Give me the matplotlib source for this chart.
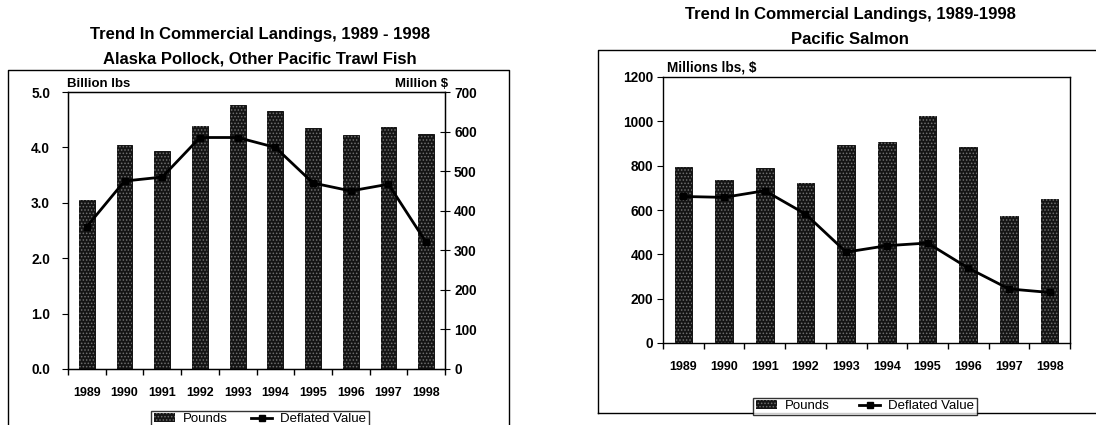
import numpy as np
import matplotlib
matplotlib.use("Agg")
import matplotlib.pyplot as plt
from matplotlib.patches import Patch
from matplotlib.lines import Line2D

plt.rcParams['font.family'] = ['Liberation Sans', 'DejaVu Sans']
plt.rcParams['hatch.linewidth'] = 0.7

years = ['1989', '1990', '1991', '1992', '1993', '1994', '1995', '1996', '1997', '1998']

# Alaska Pollock / other Pacific trawl fish
pollock_pounds = [3.05, 4.05, 3.93, 4.38, 4.77, 4.65, 4.35, 4.22, 4.37, 4.24]   # billion lbs
pollock_value = [360, 475, 485, 585, 585, 560, 470, 450, 467, 320]              # million $

# Pacific salmon
salmon_pounds = [792, 737, 789, 724, 891, 905, 1022, 882, 571, 650]             # million lbs
salmon_value = [661, 657, 687, 582, 410, 439, 451, 338, 244, 228]               # million $

BAR_FACE = '#141414'
BAR_DOTS = '#6e6e6e'

W, H = 1096, 425
fig = plt.figure(figsize=(W / 100, H / 100), dpi=100)


def fx(px):
    return px / W


def fy(py):
    return 1 - py / H


def draw_bars(ax, values, width):
    x = np.arange(len(values))
    ax.bar(x, values, width=width, color=BAR_FACE, edgecolor='black', linewidth=0.6, zorder=2)
    ax.bar(x, values, width=width, color='none', edgecolor=BAR_DOTS, hatch='.....',
           linewidth=0, zorder=3)


def style_x(ax, n):
    ax.set_xlim(-0.5, n - 0.5)
    ax.set_xticks(np.arange(n))
    ax.set_xticklabels(years, fontsize=9, fontweight='bold')
    ax.tick_params(axis='x', which='major', length=0, pad=13)
    ax.set_xticks(np.arange(-0.5, n, 1), minor=True)
    ax.tick_params(axis='x', which='minor', length=4, width=1, direction='out')


def frame(x0, x1, y0, y1):
    fig.add_artist(plt.Line2D([fx(x0), fx(x0), fx(x1), fx(x1), fx(x0)],
                              [fy(y1), fy(y0), fy(y0), fy(y1), fy(y1)],
                              color='black', linewidth=1.0, transform=fig.transFigure))


# ---------------- left chart ----------------
frame(8, 509, 70, 440)
fig.text(fx(260), fy(34), 'Trend In Commercial Landings, 1989 - 1998', ha='center', va='center',
         fontsize=12, fontweight='bold')
fig.text(fx(260), fy(59), 'Alaska Pollock, Other Pacific Trawl Fish', ha='center', va='center',
         fontsize=12, fontweight='bold')

axL = fig.add_axes([fx(68), fy(369), fx(445) - fx(68), fy(92) - fy(369)])
draw_bars(axL, pollock_pounds, 0.42)
axL.set_ylim(0, 5.0)
axL.set_yticks(np.arange(0, 5.01, 1.0))
axL.set_yticklabels([f'{v:.1f}' for v in np.arange(0, 5.01, 1.0)], fontsize=9.8, fontweight='bold')
axL.tick_params(axis='y', length=4, direction='out', pad=9)
style_x(axL, len(years))
for s in axL.spines.values():
    s.set_linewidth(1.0)

axL2 = axL.twinx()
axL2.plot(np.arange(len(years)), pollock_value, color='black', linewidth=2.0, marker='s',
          markersize=5, zorder=5)
axL2.set_ylim(0, 700)
axL2.set_yticks(np.arange(0, 701, 100))
axL2.set_yticklabels([str(v) for v in range(0, 701, 100)], fontsize=9.8, fontweight='bold')
axL2.tick_params(axis='y', length=7, direction='inout', pad=3)

fig.text(fx(67), fy(84), 'Billion lbs', ha='left', va='center', fontsize=9.5, fontweight='bold')
fig.text(fx(448), fy(84), 'Million $', ha='right', va='center', fontsize=9.5, fontweight='bold')

handles = [Patch(facecolor=BAR_FACE, edgecolor=BAR_DOTS, hatch='.....', linewidth=0),
           Line2D([0], [0], color='black', linewidth=2, marker='s', markersize=5)]
legL = fig.legend(handles, ['Pounds', 'Deflated Value'], loc='upper center',
                  bbox_to_anchor=(fx(260), fy(404)), ncol=2, frameon=True, fancybox=False,
                  edgecolor='black', fontsize=9.5, handlelength=1.6, handletextpad=0.6,
                  columnspacing=1.8, borderpad=0.2)
legL.get_frame().set_linewidth(1.0)

# ---------------- right chart ----------------
frame(598, 1110, 50, 413)
fig.text(fx(850), fy(15), 'Trend In Commercial Landings, 1989-1998', ha='center', va='center',
         fontsize=12, fontweight='bold')
fig.text(fx(850), fy(40), 'Pacific Salmon', ha='center', va='center',
         fontsize=12, fontweight='bold')

axR = fig.add_axes([fx(663), fy(343), fx(1070) - fx(663), fy(77) - fy(343)])
draw_bars(axR, salmon_pounds, 0.43)
axR.plot(np.arange(len(years)), salmon_value, color='black', linewidth=2.0, marker='s',
         markersize=5, zorder=5)
axR.set_ylim(0, 1200)
axR.set_yticks(np.arange(0, 1201, 200))
axR.set_yticklabels([str(v) for v in range(0, 1201, 200)], fontsize=9.8, fontweight='bold')
axR.tick_params(axis='y', length=4, direction='out', pad=3)
style_x(axR, len(years))
for s in axR.spines.values():
    s.set_linewidth(1.0)

fig.text(fx(667), fy(68), 'Millions lbs, $', ha='left', va='center', fontsize=9.8, fontweight='bold')

legR = fig.legend(handles, ['Pounds', 'Deflated Value'], loc='upper center',
                  bbox_to_anchor=(fx(865), fy(391)), ncol=2, frameon=True, fancybox=False,
                  edgecolor='black', fontsize=9.5, handlelength=1.6, handletextpad=0.6,
                  columnspacing=2.2, borderpad=0.2)
legR.get_frame().set_linewidth(1.0)

fig.savefig('out.png', dpi=100)
